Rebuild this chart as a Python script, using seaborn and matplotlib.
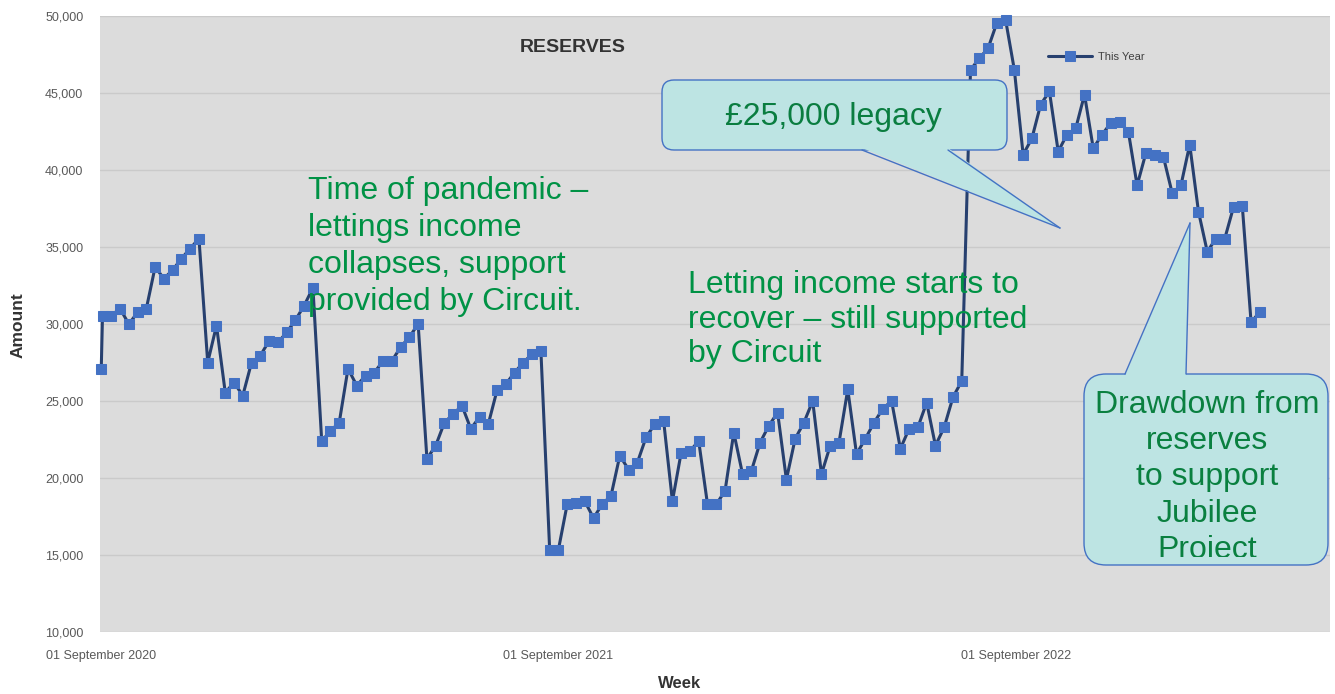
import numpy as np
import pandas as pd
import matplotlib
matplotlib.use("Agg")
import matplotlib.pyplot as plt
import seaborn as sns
from matplotlib.patches import FancyBboxPatch, Polygon
from matplotlib.lines import Line2D
from matplotlib.transforms import IdentityTransform, Bbox
from matplotlib.ticker import FuncFormatter

sns.set_theme(style='white')
plt.rcParams['font.family'] = ['Liberation Sans', 'DejaVu Sans']

# weekly reserve balances (opening balance, then weekly)
amounts_2020 = [27100, 30550, 30550, 31000, 30000, 30750, 31000, 33700, 32950, 33500,
                34250, 34900, 35550, 27500, 29900, 25550, 26200, 25350, 27500, 27950,
                28900, 28800, 29450, 30250, 31200, 32350]
amounts_2021a = [22400, 23050, 23600, 27100, 26000, 26650, 26850, 27600, 27600, 28500,
                 29150, 30000, 21250, 22100, 23600, 24150, 24700, 23200, 23950, 23500,
                 25700, 26100, 26850, 27500, 28050, 28250]
amounts_2021b = [15350, 15350, 18300, 18400, 18500, 17400, 18300, 18850, 21450, 20550,
                 21000, 22650, 23500, 23700, 18500, 21650, 21750, 22400, 18300, 18300,
                 19150, 22950, 20250, 20450, 22300]
amounts_2022a = [23400, 24250, 19900, 22550, 23600, 25000, 20250, 22100, 22300, 25750,
                 21550, 22550, 23600, 24500, 25000, 21900, 23200, 23300, 24900, 22100,
                 23300, 25250, 26300]
amounts_2022b = [46500, 47250, 47900, 49550, 49750, 46500, 41000, 42050, 44250, 45100,
                 41200, 42300, 42700, 44900, 41400, 42300, 43050]
amounts_2023 = [43100, 42500, 39000, 41100, 41000, 40850, 38500, 39000, 41650, 37300,
                34700, 35550, 35550, 37600, 37650, 30100, 30800]

amounts = (amounts_2020 + amounts_2021a + amounts_2021b + amounts_2022a
           + amounts_2022b + amounts_2023)
weeks = [pd.Timestamp('2020-09-01')] + list(
    pd.date_range('2020-09-02', periods=len(amounts) - 1, freq='7D'))

tick_dates = pd.to_datetime(['2020-09-01', '2021-09-01', '2022-09-01'])
tick_labels = ['01 September 2020', '01 September 2021', '01 September 2022']

df = pd.DataFrame({'Week': weeks, 'Amount': amounts})

W, H = 1335, 694
fig = plt.figure(figsize=(W / 100, H / 100), dpi=100)
ax = fig.add_axes([100 / W, 1 - 632 / H, (1330 - 100) / W, (632 - 16) / H])
ax.set_facecolor('#DCDCDC')

sns.lineplot(data=df, x='Week', y='Amount', ax=ax, color='#27406F', lw=2.2,
             marker='s', markersize=7.5, markerfacecolor='#4472C4',
             markeredgecolor='#4472C4', label='This Year', clip_on=False, zorder=3)

ax.set_ylim(10000, 50000)
ax.set_yticks(range(10000, 50001, 5000))
ax.yaxis.set_major_formatter(FuncFormatter(lambda v, p: f'{v:,.0f}'))
ax.set_xlim(pd.Timestamp('2020-08-31'), pd.Timestamp('2023-05-10'))
ax.set_xticks(tick_dates)
ax.set_xticklabels(tick_labels)
ax.grid(axis='y', color='#CACACA', lw=1)
ax.set_axisbelow(True)
for s in ax.spines.values():
    s.set_visible(False)
ax.tick_params(axis='both', length=0, labelsize=9, labelcolor='#595959')
ax.tick_params(axis='x', pad=13)
ax.tick_params(axis='y', pad=12)

ax.set_xlabel('Week', fontsize=12, weight='bold', color='#333333')
ax.set_ylabel('Amount', fontsize=12.5, weight='bold', color='#333333')
ax.xaxis.set_label_coords((680 - 100) / 1230, (632 - 676) / 616)
ax.yaxis.set_label_coords((26 - 100) / 1230, (632 - 325) / 616)

ax.legend(loc='center left', bbox_to_anchor=(1048 / W, 1 - 57 / H),
          bbox_transform=fig.transFigure, frameon=False, fontsize=8,
          handlelength=4, handletextpad=0.5, borderpad=0, borderaxespad=0,
          labelcolor='#404040')

fig.text(573 / W, 1 - 47 / H, 'RESERVES', ha='center', va='center',
         fontsize=14, weight='bold', color='#333333')

green = '#009245'
fig.text(308 / W, 1 - 176 / H,
         'Time of pandemic –\nlettings income\ncollapses, support\nprovided by Circuit.',
         ha='left', va='top', fontsize=23, color=green, linespacing=1.31, zorder=6)
fig.text(688 / W, 1 - 270 / H,
         'Letting income starts to\nrecover – still supported\nby Circuit',
         ha='left', va='top', fontsize=23, color=green, linespacing=1.2, zorder=6)

# callouts, in pixel coordinates of the image
fill = '#BDE4E3'
edge = '#4472C4'
idt = IdentityTransform()


def callout(x0, y0, x1, y1, radius, base_l, base_r, tip):
    box = FancyBboxPatch((x0, H - y1), x1 - x0, y1 - y0,
                         boxstyle=f'round,pad=0,rounding_size={radius}',
                         facecolor=fill, edgecolor=edge, lw=1, transform=idt, zorder=7)
    fig.add_artist(box)
    # base of the tail sits on the box edge (top or bottom)
    by = y1 if tip[1] > y1 else y0
    inset = -2 if by == y1 else 2
    pts = [(base_l, H - (by + inset)), (base_r, H - (by + inset)), (tip[0], H - tip[1])]
    fig.add_artist(Polygon(pts, closed=True, facecolor=fill, edgecolor='none',
                           transform=idt, zorder=8))
    for bx in (base_l, base_r):
        fig.add_artist(Line2D([bx, tip[0]], [H - by, H - tip[1]], color=edge, lw=1,
                              transform=idt, zorder=9))


callout(662, 80, 1007, 150, 12, 862, 948, (1060, 228))
callout(1084, 374, 1328, 565, 22, 1125, 1186, (1190, 223))

fig.text(833 / W, 1 - 117 / H, '£25,000 legacy', ha='center', va='center',
         fontsize=23, color='#0A7D40', zorder=10)
t = fig.text(1207 / W, 1 - 390 / H,
             'Drawdown from\nreserves\nto support\nJubilee\nProject',
             ha='center', va='top', fontsize=23, color='#0A8040',
             linespacing=1.27, zorder=10)
t.set_clip_box(Bbox([[1084, H - 557], [1328, H - 374]]))
t.set_clip_on(True)

fig.savefig('out.png', dpi=100)
